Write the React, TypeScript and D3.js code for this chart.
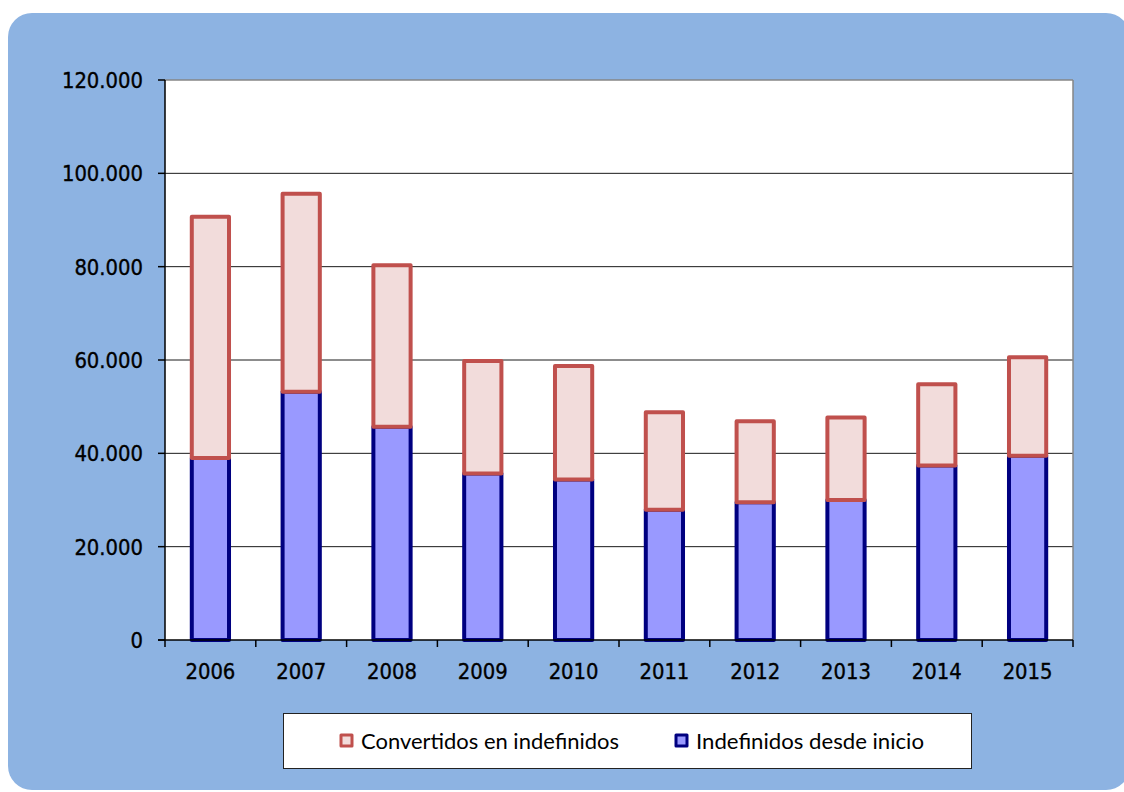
import React from "react";
import * as d3 from "d3";

const years = ["2006", "2007", "2008", "2009", "2010", "2011", "2012", "2013", "2014", "2015"];
const indefinidosDesdeInicio = [39000, 53200, 45700, 35700, 34400, 27900, 29500, 30000, 37400, 39500];
const convertidosEnIndefinidos = [51700, 42400, 34600, 24100, 24300, 20900, 17400, 17700, 17400, 21100];
const yTicks = [0, 20000, 40000, 60000, 80000, 100000, 120000];
const seriesNames = ["Convertidos en indefinidos", "Indefinidos desde inicio"];

const W = 1124, H = 792;
const left = 165, right = 1073, top = 80, bottom = 640;
const axisFont = "'DejaVu Sans Condensed', 'DejaVu Sans', sans-serif";
const legendFont = "Lato, 'Open Sans', sans-serif";

const fmt = (v: number) => {
  const s = d3.format(",")(v);
  return s.replace(/,/g, ".");
};

export default function App() {
  const x = d3.scaleBand<string>().domain(years).range([left, right]).paddingInner(0.59).paddingOuter(0.295);
  const y = d3.scaleLinear().domain([0, 120000]).range([bottom, top]);
  const xb = d3.scaleBand<string>().domain(years).range([left, right]);
  const stackData = years.map((yr, i) => ({ yr, a: indefinidosDesdeInicio[i], b: convertidosEnIndefinidos[i] }));
  const stack = d3.stack<any>().keys(["a", "b"])(stackData as any);
  const fills = { a: "#9999FF", b: "#F2DCDB" } as any;
  const strokes = { a: "#000080", b: "#C0504D" } as any;

  return (
    <svg width={W} height={H} style={{ position: "absolute", left: 0, top: 0 }}>
      <rect x={0} y={0} width={W} height={H} fill="#fff" />
      <rect x={8} y={13} width={1122} height={777} rx={24} fill="#8DB3E2" />
      <rect x={left} y={top} width={right - left} height={bottom - top} fill="#fff" />
      {yTicks.filter(t => t > 0 && t < 120000).map(t => (
        <line key={t} x1={left} x2={right} y1={y(t)} y2={y(t)} stroke="#1a1a1a" strokeWidth={1} />
      ))}
      <line x1={left} x2={right} y1={top} y2={top} stroke="#868686" strokeWidth={1.5} />
      <line x1={right} x2={right} y1={top} y2={bottom} stroke="#868686" strokeWidth={1.5} />
      {stack.map(layer => (
        <g key={layer.key}>
          {layer.map((d: any, i: number) => (
            <rect key={i} x={x(years[i])!} width={x.bandwidth()} y={y(d[1])} height={y(d[0]) - y(d[1])}
              fill={fills[layer.key]} stroke={strokes[layer.key]} strokeWidth={4} strokeLinejoin="round" />
          ))}
        </g>
      ))}
      <line x1={left} x2={left} y1={top} y2={bottom} stroke="#000" strokeWidth={1.5} />
      <line x1={left - 7} x2={right} y1={bottom} y2={bottom} stroke="#000" strokeWidth={1.5} />
      {yTicks.map(t => (
        <g key={t}>
          <line x1={left - 7} x2={left} y1={y(t)} y2={y(t)} stroke="#000" strokeWidth={1.5} />
          <text x={143} y={y(t)} dy="0.36em" textAnchor="end" fontFamily={axisFont} fontStretch="condensed" fontSize={21.8} fill="#000" stroke="#000" strokeWidth={0.35}>{fmt(t)}</text>
        </g>
      ))}
      {years.map((yr, i) => (
        <line key={"t" + yr} x1={xb(yr)!} x2={xb(yr)!} y1={bottom} y2={bottom + 7} stroke="#000" strokeWidth={1.5} />
      ))}
      <line x1={right} x2={right} y1={bottom} y2={bottom + 7} stroke="#000" strokeWidth={1.5} />
      {years.map(yr => (
        <text key={"l" + yr} x={xb(yr)! + xb.bandwidth() / 2} y={679} textAnchor="middle" fontFamily={axisFont} fontStretch="condensed" fontSize={21.8} fill="#000" stroke="#000" strokeWidth={0.35}>{yr}</text>
      ))}
      <rect x={283.5} y={713.5} width={688} height={55} fill="#fff" stroke="#222" strokeWidth={1} />
      {seriesNames.map((name, i) => {
        const key = i === 0 ? "b" : "a";
        const mx = i === 0 ? 341 : 676;
        const len = i === 0 ? 258 : 228;
        return (
          <g key={name}>
            <rect x={mx} y={735} width={11} height={11} fill={fills[key]} stroke={strokes[key]} strokeWidth={3} strokeLinejoin="round" />
            <text x={mx + 20} y={749} fontFamily={legendFont} fontSize={21} fill="#000" textLength={len} lengthAdjust="spacingAndGlyphs">{name}</text>
          </g>
        );
      })}
    </svg>
  );
}
